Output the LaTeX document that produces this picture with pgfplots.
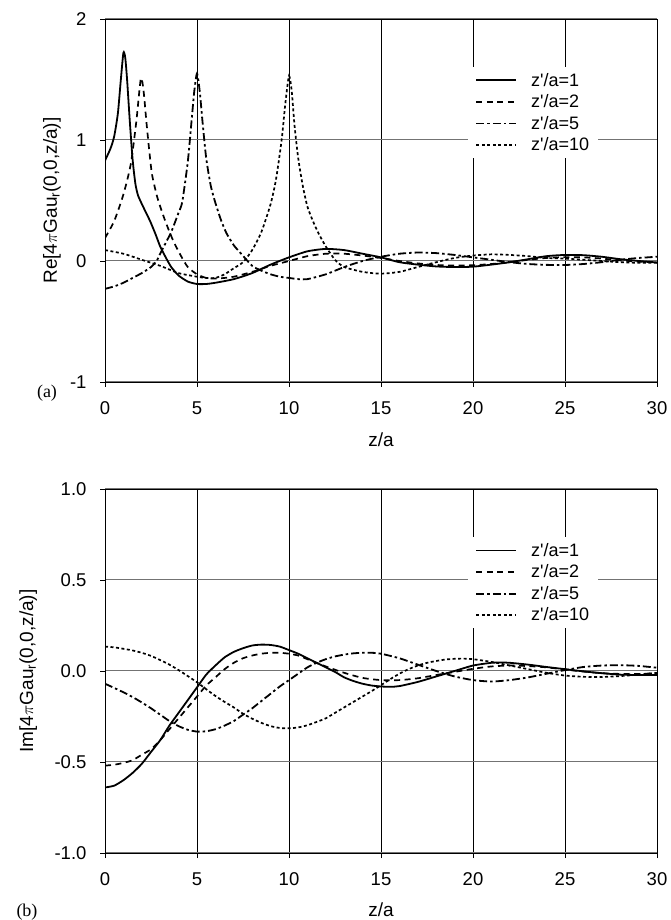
\documentclass[border=0pt]{standalone}
\usepackage{pgfplots}
\pgfplotsset{compat=1.18}
\usepackage{fontspec}
\setmainfont{Liberation Sans}
\newfontfamily\seriffont{Liberation Serif}

\pgfplotstableread{
x y
0 0.83
0.3 0.93
0.5 1.03
0.7 1.22
0.85 1.48
1.0 1.72
1.1 1.68
1.2 1.50
1.35 1.15
1.5 0.84
1.65 0.64
1.8 0.54
2.1 0.44
2.45 0.33
2.75 0.22
3.0 0.12
3.3 0.03
3.6 -0.05
4.0 -0.12
4.5 -0.17
5.0 -0.19
5.5 -0.19
6.0 -0.18
7.0 -0.15
8.0 -0.10
9.0 -0.03
10.0 0.03
11.0 0.08
12.0 0.10
13.0 0.09
14.0 0.06
15.0 0.03
16.0 -0.01
17.0 -0.03
18.0 -0.045
19.0 -0.05
20.0 -0.047
21.0 -0.03
22.0 -0.01
23.0 0.015
24.0 0.04
25.0 0.05
26.0 0.048
27.0 0.035
28.0 0.015
29.0 0.0
30.0 -0.012
}\reA
\pgfplotstableread{
x y
0 0.19
0.5 0.33
1.0 0.55
1.4 0.80
1.7 1.15
1.95 1.51
2.1 1.40
2.25 1.15
2.4 0.92
2.55 0.72
2.8 0.55
3.0 0.45
3.3 0.32
3.7 0.17
4.1 0.05
4.5 -0.05
5.0 -0.11
5.5 -0.14
6.0 -0.145
6.5 -0.14
7.0 -0.13
8.0 -0.09
9.0 -0.04
10.0 0.0
11.0 0.04
12.0 0.06
13.0 0.06
14.0 0.045
15.0 0.025
16.0 0.0
17.0 -0.02
18.0 -0.033
19.0 -0.038
20.0 -0.035
21.0 -0.025
22.0 -0.01
23.0 0.01
24.0 0.025
25.0 0.032
26.0 0.03
27.0 0.02
28.0 0.005
29.0 -0.005
30.0 -0.01
}\reB
\pgfplotstableread{
x y
0 -0.23
0.5 -0.21
1.0 -0.18
1.5 -0.14
2.0 -0.10
2.5 -0.05
2.8 0.0
3.0 0.06
3.3 0.15
3.6 0.24
4.0 0.40
4.2 0.49
4.5 0.82
4.7 1.15
4.85 1.40
5.0 1.55
5.15 1.40
5.3 1.15
5.5 0.85
5.75 0.62
6.0 0.48
6.3 0.34
6.6 0.23
7.0 0.13
7.4 0.06
8.0 -0.04
8.5 -0.08
9.0 -0.11
9.5 -0.13
10.0 -0.14
10.5 -0.15
11.0 -0.15
12.0 -0.11
13.0 -0.05
14.0 0.0
15.0 0.035
16.0 0.06
17.0 0.07
18.0 0.065
19.0 0.05
20.0 0.03
21.0 0.01
22.0 -0.01
23.0 -0.025
24.0 -0.032
25.0 -0.033
26.0 -0.025
27.0 -0.01
28.0 0.01
29.0 0.025
30.0 0.035
}\reC
\pgfplotstableread{
x y
0 0.09
1 0.06
2 0.01
3 -0.04
4 -0.10
5 -0.13
5.5 -0.14
6 -0.14
6.5 -0.11
7 -0.06
7.5 -0.01
8.0 0.09
8.5 0.24
9.0 0.47
9.3 0.68
9.6 1.0
9.8 1.30
10.0 1.53
10.15 1.40
10.3 1.12
10.5 0.85
10.75 0.62
11.0 0.45
11.3 0.33
11.6 0.23
12.0 0.12
12.5 0.01
13.0 -0.05
14.0 -0.09
15.0 -0.105
16.0 -0.09
17.0 -0.05
18.0 -0.01
19.0 0.025
20.0 0.045
21.0 0.055
22.0 0.05
23.0 0.04
24.0 0.025
25.0 0.02
26.0 0.01
27.0 0.0
28.0 -0.01
29.0 -0.015
30.0 -0.015
}\reD

\pgfplotstableread{
x y
0 -0.64
0.5 -0.63
1.0 -0.60
1.5 -0.56
2.0 -0.51
2.5 -0.445
3.0 -0.38
3.5 -0.30
4.0 -0.23
4.5 -0.16
5.0 -0.09
5.5 -0.02
6.0 0.03
6.5 0.075
7.0 0.105
7.5 0.125
8.0 0.14
8.5 0.145
9.0 0.143
9.5 0.134
10.0 0.115
10.5 0.095
11.0 0.07
11.5 0.045
12.0 0.02
12.5 -0.005
13.0 -0.035
13.5 -0.055
14.0 -0.07
14.5 -0.08
15.0 -0.085
15.5 -0.087
16.0 -0.083
17.0 -0.06
18.0 -0.03
19.0 0.0
20.0 0.03
21.0 0.045
21.5 0.047
22.0 0.045
23.0 0.035
24.0 0.022
25.0 0.01
26.0 -0.002
27.0 -0.012
28.0 -0.02
29.0 -0.022
30.0 -0.022
}\imA
\pgfplotstableread{
x y
0 -0.52
0.5 -0.515
1.0 -0.505
1.5 -0.49
2.0 -0.46
2.5 -0.43
3.0 -0.38
3.5 -0.32
4.0 -0.26
4.5 -0.20
5.0 -0.14
5.5 -0.08
6.0 -0.035
6.5 0.01
7.0 0.045
7.5 0.07
8.0 0.085
8.5 0.095
9.0 0.10
9.5 0.10
10.0 0.095
10.5 0.085
11.0 0.065
12.0 0.025
13.0 -0.01
14.0 -0.038
15.0 -0.05
16.0 -0.05
17.0 -0.04
18.0 -0.022
19.0 -0.005
20.0 0.012
21.0 0.025
22.0 0.03
23.0 0.027
24.0 0.02
25.0 0.008
26.0 -0.003
27.0 -0.012
28.0 -0.016
29.0 -0.016
30.0 -0.012
}\imB
\pgfplotstableread{
x y
0 -0.07
0.5 -0.093
1.0 -0.117
1.5 -0.143
2.0 -0.173
2.5 -0.205
3.0 -0.24
3.5 -0.275
4.0 -0.303
4.5 -0.323
5.0 -0.333
5.5 -0.331
6.0 -0.32
6.5 -0.30
7.0 -0.275
7.5 -0.24
8.0 -0.205
8.5 -0.165
9.0 -0.125
9.5 -0.085
10.0 -0.05
10.5 -0.015
11.0 0.02
11.5 0.045
12.0 0.065
12.5 0.08
13.0 0.09
13.5 0.097
14.0 0.10
14.5 0.10
15.0 0.095
16.0 0.07
17.0 0.035
18.0 0.0
19.0 -0.03
20.0 -0.05
21.0 -0.058
22.0 -0.05
23.0 -0.035
24.0 -0.015
25.0 0.005
26.0 0.022
27.0 0.03
28.0 0.032
29.0 0.028
30.0 0.018
}\imC
\pgfplotstableread{
x y
0 0.134
0.5 0.13
1.0 0.122
1.5 0.113
2.0 0.10
2.5 0.083
3.0 0.06
3.5 0.035
4.0 0.005
4.5 -0.028
5.0 -0.062
5.5 -0.10
6.0 -0.137
6.5 -0.17
7.0 -0.20
7.5 -0.235
8.0 -0.262
8.5 -0.285
9.0 -0.303
9.5 -0.313
10.0 -0.315
10.5 -0.31
11.0 -0.298
11.5 -0.28
12.0 -0.26
12.5 -0.23
13.0 -0.20
13.5 -0.17
14.0 -0.14
14.5 -0.11
15.0 -0.078
15.5 -0.045
16.0 -0.015
16.5 0.01
17.0 0.03
17.5 0.045
18.0 0.055
18.5 0.063
19.0 0.067
19.5 0.068
20.0 0.065
21.0 0.05
22.0 0.03
23.0 0.01
24.0 -0.01
25.0 -0.025
26.0 -0.032
27.0 -0.033
28.0 -0.028
29.0 -0.02
30.0 -0.01
}\imD

\pgfplotsset{
  common/.style={
    scale only axis,
    width=552pt,
    xmin=0, xmax=30,
    xtick={0,5,...,30},
    grid=major,
    x grid style={black, line width=0.7pt},
    y grid style={black!55, line width=1pt},
    axis line style={black, line width=0.9pt},
    tick align=outside,
    xtick pos=bottom, ytick pos=left,
    major tick length=5pt,
    tick style={black, line width=0.9pt},
    tick label style={font=\fontsize{18.5}{20}\selectfont},
    xticklabel style={yshift=-11pt},
    yticklabel style={xshift=-10pt},
    /pgf/number format/assume math mode=true,
    label style={font=\fontsize{19}{22}\selectfont},
    xlabel={z/a},
    legend cell align=left,
    legend style={draw=none, fill=white, anchor=north west,
      inner xsep=7pt, inner ysep=4pt, row sep=3pt,
      /tikz/every odd column/.append style={column sep=12pt},
      font=\fontsize{18}{20}\selectfont},
    legend image code/.code={\draw[##1] (0pt,0pt) -- (40pt,0pt);},
  },
  s1/.style={black, line width=1.8pt, smooth, tension=0.4},
  s2/.style={black, line width=1.7pt, dash pattern=on 6pt off 4.5pt, smooth, tension=0.4},
  s3/.style={black, line width=1.8pt, dash pattern=on 8pt off 3pt on 2.5pt off 3pt, smooth, tension=0.4},
  s4/.style={black, line width=1.7pt, dash pattern=on 3pt off 2.5pt, smooth, tension=0.4},
}

\begin{document}
\begin{tikzpicture}
\path[use as bounding box] (0,0) rectangle (670pt,920pt);

\begin{axis}[common,
  at={(105pt,538pt)}, anchor=south west,
  height=363pt,
  ymin=-1, ymax=2, ytick={-1,0,1,2},
  ylabel={Re[4$\pi$Gau\textsubscript{r}(0,0,z/a)]},
  y label style={at={(axis description cs:-0.096,0.5)}, anchor=center},
  x label style={at={(axis description cs:0.5,-0.16)}, anchor=center},
  legend style={at={(axis description cs:0.658,0.868)}},
]
\addplot[s1] table {\reA};
\addlegendentry{z\textquotesingle/a=1}
\addplot[s2] table {\reB};
\addlegendentry{z\textquotesingle/a=2}
\addplot[s3] table {\reC};
\addlegendentry{z\textquotesingle/a=5}
\addplot[s4] table {\reD};
\addlegendentry{z\textquotesingle/a=10}
\end{axis}

\begin{axis}[common,
  at={(105pt,67pt)}, anchor=south west,
  height=364pt,
  ymin=-1, ymax=1, ytick={-1,-0.5,0,0.5,1},
  yticklabel style={/pgf/number format/.cd, fixed, fixed zerofill, precision=1},
  ylabel={Im[4$\pi$Gau\textsubscript{r}(0,0,z/a)]},
  y label style={at={(axis description cs:-0.139,0.5)}, anchor=center},
  x label style={at={(axis description cs:0.5,-0.157)}, anchor=center},
  legend style={at={(axis description cs:0.658,0.868)}},
]
\addplot[s1] table {\imA};
\addlegendentry{z\textquotesingle/a=1}
\addplot[s2] table {\imB};
\addlegendentry{z\textquotesingle/a=2}
\addplot[s3] table {\imC};
\addlegendentry{z\textquotesingle/a=5}
\addplot[s4] table {\imD};
\addlegendentry{z\textquotesingle/a=10}
\end{axis}

\node[font=\seriffont\fontsize{18}{20}\selectfont] at (47pt,527pt) {(a)};
\node[font=\seriffont\fontsize{18}{20}\selectfont] at (27pt,8pt) {(b)};
\end{tikzpicture}
\end{document}
